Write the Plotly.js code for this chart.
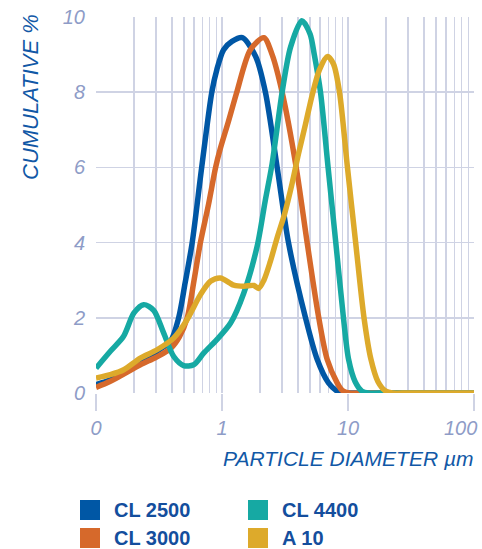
<!DOCTYPE html>
<html>
<head>
<meta charset="utf-8">
<script src="https://cdn.plot.ly/plotly-3.0.1.min.js"></script>
<style>html,body{margin:0;padding:0;background:#fff;}#chart{width:482px;height:549px;}</style>
</head>
<body>
<div id="chart"></div>
<script>
// ---- data ----
const seriesNames = ["CL 2500", "CL 3000", "CL 4400", "A 10"];
const seriesColors = ["#0057a5", "#d6692b", "#16a9a3", "#ddaa2b"];

const cl2500X = [0.1, 0.13, 0.165, 0.225, 0.3, 0.39, 0.453, 0.51, 0.58, 0.69, 0.83, 0.91, 1.03, 1.2, 1.45, 1.85, 2.21, 2.74, 3.37, 4.6, 5.7, 7.0, 8.4, 9.5, 12, 20, 100];
const cl2500Y = [0.22, 0.35, 0.55, 0.85, 1.1, 1.38, 2.0, 2.93, 4.0, 6.0, 8.0, 8.6, 9.13, 9.35, 9.45, 8.95, 8.0, 6.0, 4.0, 2.0, 0.89, 0.27, 0.03, 0, 0, 0, 0];

const cl3000X = [0.1, 0.13, 0.225, 0.3, 0.39, 0.46, 0.53, 0.6, 0.674, 0.78, 0.89, 0.97, 1.12, 1.31, 1.68, 2.15, 2.5, 3.0, 3.88, 4.74, 5.86, 6.84, 8.2, 9.0, 10.2, 14, 20, 100];
const cl3000Y = [0.15, 0.31, 0.75, 0.95, 1.18, 1.5, 2.0, 3.0, 4.0, 5.0, 6.0, 6.5, 7.2, 8.0, 9.13, 9.45, 9.0, 8.0, 6.0, 4.0, 2.0, 0.89, 0.27, 0.07, 0, 0, 0, 0];

const cl4400X = [0.1, 0.13, 0.165, 0.2, 0.239, 0.287, 0.344, 0.414, 0.496, 0.596, 0.715, 0.91, 1.17, 1.49, 1.9, 2.2, 2.5, 2.75, 3.0, 3.5, 4.3, 5.0, 5.4, 6.05, 6.95, 8.0, 9.2, 10.1, 11.4, 12.9, 14.5, 20, 100];
const cl4400Y = [0.66, 1.11, 1.5, 2.13, 2.35, 2.2, 1.6, 0.97, 0.73, 0.75, 1.06, 1.42, 1.86, 2.66, 3.9, 5.1, 6.1, 7.1, 8.0, 9.2, 9.9, 9.55, 9.0, 8.0, 6.0, 4.0, 2.0, 0.9, 0.3, 0.05, 0, 0, 0];

const a10X = [0.1, 0.13, 0.166, 0.225, 0.305, 0.413, 0.528, 0.673, 0.81, 0.97, 1.24, 1.49, 1.79, 1.95, 2.15, 2.42, 2.75, 3.13, 3.56, 4.04, 4.6, 5.22, 5.94, 6.87, 7.67, 8.56, 9.9, 11.5, 13.4, 15.2, 17.3, 19.9, 22.5, 30, 100];
const a10Y = [0.4, 0.49, 0.62, 0.93, 1.15, 1.46, 1.95, 2.61, 2.97, 3.06, 2.87, 2.84, 2.86, 2.78, 3.0, 3.5, 4.15, 4.75, 5.5, 6.35, 7.15, 7.95, 8.6, 8.95, 8.75, 8.0, 6.0, 4.0, 2.0, 0.9, 0.3, 0.05, 0, 0, 0];

const xTickVals = [0.1, 1, 10, 100];
const xTickText = ["0", "1", "10", "100"];
const yTickVals = [0, 2, 4, 6, 8, 10];
const yTitle = "CUMULATIVE %";
const xTitle = "PARTICLE DIAMETER µm";

// ---- chart ----
const xs = [cl2500X, cl3000X, cl4400X, a10X];
const ys = [cl2500Y, cl3000Y, cl4400Y, a10Y];

const traces = [0, 1, 2, 3].map(i => ({
  type: "scatter", mode: "lines", x: xs[i], y: ys[i], name: seriesNames[i],
  line: {color: seriesColors[i], width: 5.5, shape: "spline", smoothing: 0.8},
  cliponaxis: false, showlegend: false, hoverinfo: "skip"
}));

const W = 482, H = 549, ML = 96, MR = 8, MT = 17, MB = 156;
const PW = W - ML - MR, PH = H - MT - MB;
const px = v => (v - ML) / PW;
const py = v => (H - MB - v) / PH;

const gridCol = "#cfd3e4";
const tickCol = "#8e9cc7";
const titleCol = "#1158a6";
const legendTextCol = "#144e9d";
const fontFam = "Liberation Sans, Arial, sans-serif";
const tickFont = {family: fontFam, size: 20, color: tickCol, style: "italic"};

const shapes = [];
const annotations = [];
seriesNames.forEach((name, i) => {
  const col = Math.floor(i / 2), row = i % 2;
  const sx = 80 + col * 168, sy = 500 + row * 28;
  shapes.push({type: "rect", xref: "paper", yref: "paper",
    x0: px(sx), x1: px(sx + 20), y0: py(sy + 20), y1: py(sy),
    fillcolor: seriesColors[i], line: {width: 0}});
  annotations.push({xref: "paper", yref: "paper", x: px(sx + 32), y: py(sy + 10),
    xanchor: "left", yanchor: "middle", showarrow: false, text: name,
    font: {family: fontFam, size: 20, color: legendTextCol, weight: "bold"}});
});
// last x tick label, kept inside the page like the reference
annotations.push({xref: "paper", yref: "paper", x: px(479), y: py(428), xanchor: "right", yanchor: "middle",
  showarrow: false, text: xTickText[xTickText.length - 1], font: tickFont});
annotations.push({xref: "paper", yref: "paper", x: px(31), y: py(97), xanchor: "center", yanchor: "middle",
  textangle: -90, showarrow: false, text: yTitle,
  font: {family: fontFam, size: 22, color: titleCol, style: "italic"}});
annotations.push({xref: "paper", yref: "paper", x: px(476), y: py(458), xanchor: "right", yanchor: "middle",
  showarrow: false, text: xTitle,
  font: {family: fontFam, size: 21, color: titleCol, style: "italic"}});

const layout = {
  width: W, height: H, margin: {l: ML, r: MR, t: MT, b: MB, pad: 0},
  paper_bgcolor: "#fff", plot_bgcolor: "#fff", showlegend: false,
  xaxis: {type: "log", range: [-1, 2], tickmode: "array", tickvals: xTickVals,
    ticktext: xTickText.map((t, i) => i === xTickText.length - 1 ? "" : t),
    showgrid: true, gridcolor: gridCol, gridwidth: 1.5, zeroline: false, showline: false,
    ticks: "outside", ticklen: 17, tickwidth: 1.5, tickcolor: gridCol, ticklabelstandoff: 0,
    minor: {dtick: "D1", showgrid: true, gridcolor: gridCol, gridwidth: 1.3, ticks: ""},
    tickfont: tickFont, fixedrange: true},
  yaxis: {range: [0, 10], tickmode: "array", tickvals: yTickVals,
    showgrid: true, gridcolor: gridCol, gridwidth: 1.5, zeroline: false, showline: false,
    ticks: "", ticklabelstandoff: 10, tickfont: tickFont, fixedrange: true},
  shapes: shapes, annotations: annotations
};

Plotly.newPlot("chart", traces, layout, {staticPlot: true, displayModeBar: false});
</script>
</body>
</html>
